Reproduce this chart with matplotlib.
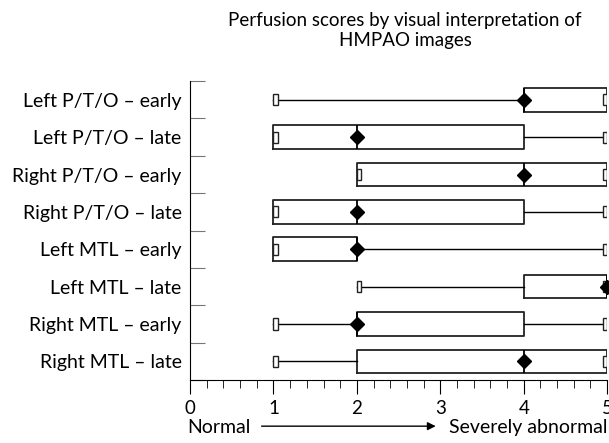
import matplotlib.pyplot as plt
import numpy as np

plt.rcParams['font.family'] = ['Lato', 'DejaVu Sans']

labels = ["Left P/T/O – early", "Left P/T/O – late", "Right P/T/O – early",
          "Right P/T/O – late", "Left MTL – early", "Left MTL – late",
          "Right MTL – early", "Right MTL – late"]
whis_lo = [1, 1, 2, 1, 1, 2, 1, 1]
q1 = [4, 1, 2, 1, 1, 4, 2, 2]
median = [4, 2, 4, 2, 2, 5, 2, 4]
q3 = [5, 4, 5, 4, 2, 5, 4, 5]
whis_hi = [5, 5, 5, 5, 5, 5, 5, 5]

n = len(labels)
pos = np.arange(n, 0, -1)

fig = plt.figure(figsize=(6.09, 4.43), dpi=100)
ax = fig.add_axes([0.312, 0.142, 0.685, 0.675])

stats = []
for i in range(n):
    stats.append(dict(whislo=whis_lo[i], q1=q1[i], med=median[i], q3=q3[i],
                      whishi=whis_hi[i], fliers=[]))

ax.bxp(stats, positions=pos, vert=False, widths=0.63, showcaps=False,
       showfliers=False,
       boxprops=dict(color='#222222', linewidth=1.3),
       whiskerprops=dict(color='black', linewidth=1.0),
       medianprops=dict(color='black', linewidth=1.3))

# small open rectangles as whisker caps
cap_w = 0.05
ax.barh(pos, cap_w, left=whis_lo, height=0.3, facecolor='white',
        edgecolor='#222222', linewidth=1.0, zorder=3)
ax.barh(pos, cap_w, left=np.array(whis_hi) - cap_w, height=0.3,
        facecolor='white', edgecolor='#222222', linewidth=1.0, zorder=3)

ax.plot(median, pos, linestyle='none', marker='D', markersize=7,
        color='black', zorder=4, clip_on=False)

ax.set_xlim(0, 5)
ax.set_ylim(0.5, n + 0.5)
ax.spines['top'].set_visible(False)
ax.spines['right'].set_visible(False)

ax.set_xticks(range(6))
ax.set_xticks(np.arange(0, 5.01, 0.2), minor=True)
ax.tick_params(axis='x', which='major', direction='out', length=10,
               labelsize=13.5, pad=4)
ax.tick_params(axis='x', which='minor', direction='out', length=6)

ax.set_yticks(np.arange(0.5, n + 1, 1))
ax.set_yticklabels([])
ax.set_yticks(pos, minor=True)
ax.set_yticklabels(labels, minor=True, fontsize=14)
ax.tick_params(axis='y', which='major', direction='in', length=11,
               color='#777777')
ax.tick_params(axis='y', which='minor', length=0, pad=6)

fig.text(0.665, 0.972, "Perfusion scores by visual interpretation of\nHMPAO images",
         ha='center', va='top', fontsize=13.5, linespacing=1.22)

fig.text(0.308, 0.022, "Normal", ha='left', va='baseline', fontsize=14)
fig.text(0.997, 0.022, "Severely abnormal", ha='right', va='baseline', fontsize=14)
fig.add_artist(plt.Annotation("", xy=(0.72, 0.038), xytext=(0.425, 0.038),
                              xycoords='figure fraction',
                              arrowprops=dict(arrowstyle='-|>', color='black',
                                              lw=1.0, mutation_scale=12)))

fig.savefig("out.png", dpi=100)
